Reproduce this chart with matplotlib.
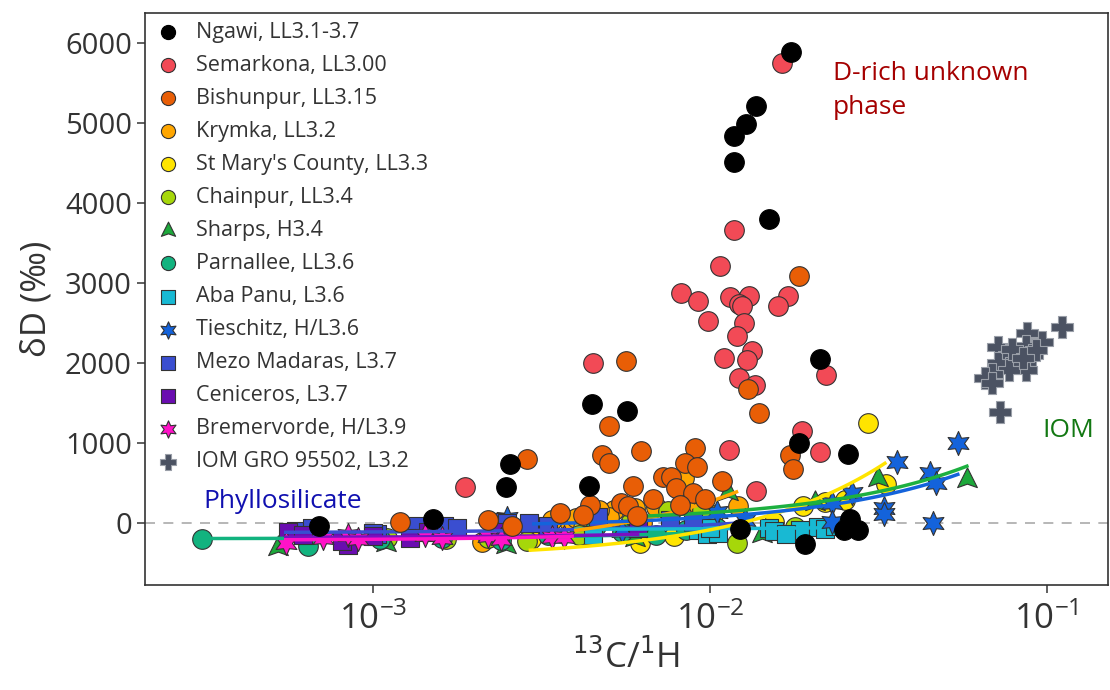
import numpy as np
import matplotlib
matplotlib.use("Agg")
import matplotlib.pyplot as plt
from matplotlib.path import Path

plt.rcParams["font.family"] = ["Open Sans", "DejaVu Sans"]
plt.rcParams["axes.linewidth"] = 1.2

# --- data (13C/1H, dD permil) ---
ngawi_x = [6.9e-4, 1.51e-3, 2.48e-3, 2.55e-3, 4.37e-3, 4.47e-3, 5.67e-3, 1.18e-2, 1.18e-2, 1.28e-2,
           1.37e-2, 1.50e-2, 1.74e-2, 1.84e-2, 2.12e-2, 1.23e-2, 1.92e-2, 2.57e-2, 2.60e-2, 2.50e-2, 2.75e-2]
ngawi_y = [-40, 50, 450, 740, 460, 1490, 1400, 4510, 4840, 4990,
           5220, 3800, 5890, 1000, 2050, -70, -260, 860, 50, -90, -80]

semarkona_x = [1.64e-2, 1.18e-2, 1.07e-2, 8.2e-3, 9.2e-3, 1.15e-2, 1.31e-2, 1.22e-2, 1.25e-2, 1.71e-2,
               1.59e-2, 9.9e-3, 1.26e-2, 1.20e-2, 1.33e-2, 1.10e-2, 1.29e-2, 4.5e-3, 2.21e-2, 1.22e-2,
               1.36e-2, 1.88e-2, 2.13e-2, 1.14e-2, 1.37e-2, 1.88e-3, 8.9e-3]
semarkona_y = [5750, 3660, 3210, 2880, 2780, 2830, 2840, 2740, 2710, 2840,
               2710, 2530, 2500, 2340, 2150, 2060, 2040, 2000, 1850, 1810,
               1730, 1150, 890, 910, 400, 450, 250]

bishunpur_x = [1.84e-2, 5.64e-3, 1.30e-2, 1.40e-2, 2.86e-3, 5.02e-3, 4.78e-3, 5.02e-3, 6.24e-3, 9.02e-3,
               8.43e-3, 9.15e-3, 7.26e-3, 7.66e-3, 7.93e-3, 5.91e-3, 6.78e-3, 8.91e-3, 9.66e-3, 1.09e-2,
               8.15e-3, 5.45e-3, 5.70e-3, 4.40e-3, 4.20e-3, 3.59e-3, 6.07e-3, 1.73e-2, 1.76e-2, 2.58e-3,
               1.20e-3, 2.19e-3]
bishunpur_y = [3090, 2030, 1680, 1380, 800, 1210, 850, 750, 900, 940,
               750, 700, 580, 580, 440, 460, 300, 380, 300, 530,
               230, 250, 210, 230, 100, 130, 90, 850, 680, -40,
               15, 40]

krymka_x = [8.4e-3, 1.21e-2, 3.8e-3, 6.9e-3, 5.2e-3, 5.0e-3, 6.3e-3, 9.3e-3, 7.6e-3, 4.0e-3,
            4.7e-3, 3.4e-3, 2.1e-3, 3.0e-3, 6.0e-3]
krymka_y = [560, 210, 40, 200, 160, 80, 0, 210, 110, 60,
            160, 40, -230, -60, 190]

stmary_x = [2.94e-2, 3.33e-2, 1.89e-2, 2.52e-2, 2.20e-2, 7.8e-3, 6.2e-3, 2.95e-3, 1.02e-2, 4.2e-3,
            1.55e-2, 5.6e-3, 2.4e-3]
stmary_y = [1250, 490, 210, 290, 260, -160, -250, -200, 100, -60,
            20, -120, -170]

chainpur_x = [1.20e-2, 1.79e-2, 7.5e-3, 2.86e-3, 1.64e-3, 9.5e-3, 5.8e-3, 4.1e-3, 1.1e-3, 2.2e-3]
chainpur_y = [-250, -50, 150, -220, -200, 170, 0, -150, -180, -190]

sharps_x = [5.2e-4, 1.09e-3, 6.0e-3, 1.13e-2, 1.43e-2, 2.05e-2, 3.15e-2, 5.8e-2, 2.48e-3]
sharps_y = [-300, -250, -190, 390, -130, 260, 560, 550, -270]

parnallee_x = [3.1e-4, 6.4e-4, 1.05e-3, 1.6e-3, 2.4e-3, 3.3e-3, 4.6e-3, 5.5e-3, 6.9e-3, 8.5e-3, 1.05e-2]
parnallee_y = [-200, -280, -200, -180, -210, -150, -30, -110, -150, -80, -60]

abapanu_x = [4.5e-3, 9.2e-3, 9.8e-3, 1.06e-2, 1.50e-2, 1.55e-2, 1.85e-2, 2.10e-2, 2.20e-2, 1.68e-2,
             2.35e-2, 1.00e-2]
abapanu_y = [-150, -90, -130, -120, -60, -100, -90, -50, -70, -130,
             -40, -60]

tieschitz_x = [2.5e-3, 1.05e-2, 1.27e-2, 2.3e-2, 2.65e-2, 3.3e-2, 3.3e-2, 3.6e-2, 4.5e-2, 4.7e-2,
               4.6e-2, 5.45e-2, 2.3e-2, 5.5e-3]
tieschitz_y = [60, 140, 40, 250, 380, 190, 120, 760, 630, 500,
               0, 1000, 20, -100]

mezo_x = [5.9e-4, 6.6e-4, 1.03e-3, 1.35e-3, 1.62e-3, 1.78e-3, 2.3e-3, 2.5e-3, 2.9e-3, 3.3e-3,
          4.65e-3, 7.6e-3, 8.9e-3, 1.0e-3]
mezo_y = [-100, -60, -130, -30, -30, -60, 10, 0, 0, -30,
          75, 40, 10, -120]

ceniceros_x = [5.6e-4, 6.2e-4, 8.4e-4, 1.0e-3, 1.29e-3, 1.45e-3, 2.38e-3, 6.1e-3, 8.1e-4]
ceniceros_y = [-110, -150, -270, -160, -190, -110, -110, -60, -220]

bremervorde_x = [5.5e-4, 7.1e-4, 8.4e-4, 9.0e-4, 1.43e-3, 1.6e-3, 2.2e-3, 2.4e-3, 3.4e-3, 3.7e-3]
bremervorde_y = [-250, -180, -150, -200, -150, -190, -160, -200, -170, -170]

iom_x = [0.111, 0.0873, 0.097, 0.087, 0.0716, 0.0776, 0.0905, 0.081, 0.0716, 0.087,
         0.0776, 0.0688, 0.0655, 0.069, 0.0726, 0.093, 0.079, 0.085]
iom_y = [2450, 2375, 2260, 2220, 2200, 2100, 2100, 2030, 2000, 1910,
         1910, 1870, 1820, 1750, 1390, 2170, 2180, 2060]

# linear trend lines dD = a + b * C/H: (x_min, x_max, a, b)
fit_parnallee = (3.1e-4, 9e-3, -195, 8000)
fit_ceniceros = (5.5e-4, 6.1e-3, -180, 6500)
fit_bremervorde = (5.5e-4, 3.9e-3, -215, 13000)
fit_mezo = (5.5e-4, 1.3e-2, -120, 10000)
fit_abapanu = (4.0e-3, 2.1e-2, -80, 1000)
fit_krymka = (4.0e-3, 1.2e-2, -330, 60000)
fit_stmary = (2.93e-3, 3.31e-2, -444, 36000)
fit_sharps = (6.0e-3, 5.8e-2, 10, 12100)
fit_tieschitz = (3.0e-3, 5.45e-2, -45, 12000)

# concave "arrowhead" triangle used for Sharps
tri = Path([(0, 1), (0.85, -0.7), (0, -0.4), (-0.85, -0.7), (0, 1)],
           [Path.MOVETO, Path.LINETO, Path.LINETO, Path.LINETO, Path.CLOSEPOLY])
star6 = (6, 1, 0)

series = [
    ("Ngawi, LL3.1-3.7", ngawi_x, ngawi_y, "#000000", "o", 200, 6),
    ("Semarkona, LL3.00", semarkona_x, semarkona_y, "#F24A56", "o", 200, 3),
    ("Bishunpur, LL3.15", bishunpur_x, bishunpur_y, "#E85E06", "o", 200, 4),
    ("Krymka, LL3.2", krymka_x, krymka_y, "#FFA600", "o", 200, 3),
    ("St Mary's County, LL3.3", stmary_x, stmary_y, "#FFE400", "o", 200, 3),
    ("Chainpur, LL3.4", chainpur_x, chainpur_y, "#A6D70A", "o", 200, 3),
    ("Sharps, H3.4", sharps_x, sharps_y, "#1DA83B", tri, 280, 3),
    ("Parnallee, LL3.6", parnallee_x, parnallee_y, "#12B37F", "o", 200, 3),
    ("Aba Panu, L3.6", abapanu_x, abapanu_y, "#18B9D3", "s", 185, 3),
    ("Tieschitz, H/L3.6", tieschitz_x, tieschitz_y, "#1463DB", star6, 300, 3),
    ("Mezo Madaras, L3.7", mezo_x, mezo_y, "#3A4ED0", "s", 185, 3),
    ("Ceniceros, L3.7", ceniceros_x, ceniceros_y, "#6A0DB0", "s", 185, 3),
    ("Bremervorde, H/L3.9", bremervorde_x, bremervorde_y, "#FF12C8", star6, 300, 3),
    ("IOM GRO 95502, L3.2", iom_x, iom_y, "#4B5262", "P", 250, 3),
]

fits = [
    (fit_parnallee, "#12B37F"), (fit_ceniceros, "#7A10C0"), (fit_bremervorde, "#FF12C8"),
    (fit_mezo, "#3A4ED0"), (fit_abapanu, "#18B9D3"), (fit_krymka, "#FFA600"),
    (fit_stmary, "#FFE400"), (fit_sharps, "#1DB040"), (fit_tieschitz, "#1463DB"),
]

fig = plt.figure(figsize=(11.1, 6.9), dpi=100)
ax = fig.add_axes([0.1306, 0.152, 0.8674, 0.829])

ax.axhline(0, color="#AAAAAA", lw=1.2, ls=(0, (6, 5)), zorder=1)

for label, xs, ys, col, mk, size, z in series:
    ec = "#9A9FA8" if mk == "P" else ("#000000" if col == "#000000" else "#333333")
    ax.scatter(xs, ys, s=size, c=col, marker=mk, edgecolors=ec, linewidths=0.8,
               label=label, zorder=z)

for (x0, x1, a, b), col in fits:
    xx = np.geomspace(x0, x1, 80)
    ax.plot(xx, a + b * xx, color=col, lw=2.5, zorder=3.5)

ax.set_xscale("log")
ax.set_xlim(2.1e-4, 0.152)
ax.set_ylim(-775, 6375)
ax.set_yticks([0, 1000, 2000, 3000, 4000, 5000, 6000])
ax.xaxis.set_minor_locator(matplotlib.ticker.NullLocator())
ax.tick_params(axis="y", labelsize=21, length=6, width=1.2, color="#444444", labelcolor="#333333")
ax.tick_params(axis="x", labelsize=25, length=6, width=1.2, color="#444444", labelcolor="#333333", pad=6)
for sp in ax.spines.values():
    sp.set_color("#333333")

ax.set_xlabel("$^{13}$C/$^{1}$H", fontsize=25, labelpad=2, color="#333333")
ax.set_ylabel("δD (‰)", fontsize=25, labelpad=8, color="#333333")

ax.text(0.0232, 5410, "D-rich unknown\nphase", color="#A50000", fontsize=19,
        va="center", ha="left", linespacing=1.45)
ax.text(0.0973, 1160, "IOM", color="#127812", fontsize=19, va="center", ha="left")
ax.text(3.13e-4, 270, "Phyllosilicate", color="#1010B0", fontsize=19, va="center", ha="left")

leg = ax.legend(loc="upper left", frameon=False, fontsize=15.5, markerscale=0.72,
                labelspacing=0.56, handletextpad=0.65, borderaxespad=0.0,
                bbox_to_anchor=(0.0, 1.0), handlelength=1.3)
for t in leg.get_texts():
    t.set_color("#333333")

fig.savefig("out.png", dpi=100)
